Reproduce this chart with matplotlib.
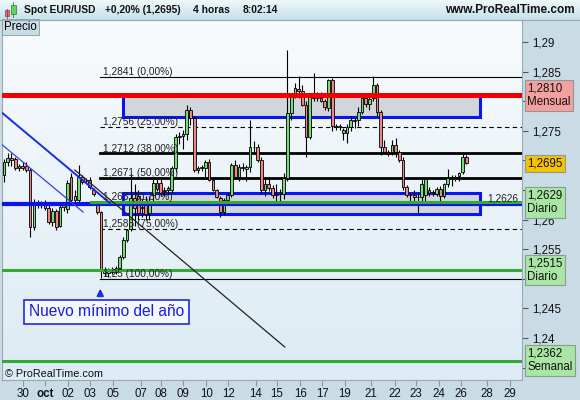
import numpy as np
import matplotlib.pyplot as plt
from matplotlib.patches import Rectangle
import matplotlib.transforms as mtransforms

plt.rcParams['font.family'] = ['Liberation Sans', 'DejaVu Sans']

# 4h candles, Spot EUR/USD
opens = [1.2676, 1.2698, 1.2704, 1.2703, 1.2688, 1.2690, 1.2690, 1.2684, 1.2587, 1.2625,
         1.2628, 1.2628, 1.2620, 1.2596, 1.2615, 1.2590, 1.2622, 1.2618, 1.2672, 1.2633,
         1.2633, 1.2672, 1.2665, 1.2667, 1.2650, 1.2625, 1.2613, 1.2515, 1.2510, 1.2514,
         1.2512, 1.2518, 1.2537, 1.2566, 1.2584, 1.2636, 1.2640, 1.2620, 1.2625, 1.2612,
         1.2642, 1.2662, 1.2662, 1.2648, 1.2650, 1.2650, 1.2687, 1.2740, 1.2742, 1.2744,
         1.2785, 1.2772, 1.2684, 1.2687, 1.2687, 1.2697, 1.2667, 1.2650, 1.2636, 1.2613,
         1.2633, 1.2641, 1.2692, 1.2672, 1.2689, 1.2686, 1.2689, 1.2723, 1.2722, 1.2701,
         1.2650, 1.2660, 1.2654, 1.2641, 1.2643, 1.2643, 1.2670, 1.2780, 1.2814, 1.2820,
         1.2818, 1.2794, 1.2740, 1.2807, 1.2806, 1.2806, 1.2800, 1.2788, 1.2836, 1.2758,
         1.2757, 1.2751, 1.2746, 1.2756, 1.2768, 1.2768, 1.2782, 1.2805, 1.2795, 1.2805,
         1.2827, 1.2782, 1.2723, 1.2714, 1.2714, 1.2726, 1.2714, 1.2701, 1.2655, 1.2642,
         1.2642, 1.2639, 1.2638, 1.2642, 1.2650, 1.2645, 1.2643, 1.2652, 1.2640, 1.2660,
         1.2670, 1.2672, 1.2673, 1.2680, 1.2706]
highs = [1.2703, 1.2712, 1.2712, 1.2706, 1.2694, 1.2697, 1.2697, 1.2688, 1.2634, 1.2633,
         1.2632, 1.2633, 1.2628, 1.2620, 1.2618, 1.2628, 1.2630, 1.2667, 1.2678, 1.2650,
         1.2692, 1.2676, 1.2670, 1.2672, 1.2653, 1.2628, 1.2615, 1.2520, 1.2518, 1.2520,
         1.2522, 1.2540, 1.2570, 1.2585, 1.2679, 1.2660, 1.2650, 1.2635, 1.2640, 1.2640,
         1.2668, 1.2670, 1.2668, 1.2655, 1.2656, 1.2690, 1.2745, 1.2748, 1.2752, 1.2794,
         1.2790, 1.2775, 1.2690, 1.2692, 1.2700, 1.2703, 1.2670, 1.2652, 1.2640, 1.2636,
         1.2645, 1.2696, 1.2700, 1.2694, 1.2695, 1.2693, 1.2768, 1.2733, 1.2728, 1.2706,
         1.2670, 1.2668, 1.2658, 1.2660, 1.2652, 1.2678, 1.2887, 1.2812, 1.2830, 1.2843,
         1.2828, 1.2800, 1.2812, 1.2848, 1.2815, 1.2815, 1.2803, 1.2838, 1.2840, 1.2762,
         1.2762, 1.2754, 1.2762, 1.2775, 1.2772, 1.2790, 1.2810, 1.2810, 1.2810, 1.2843,
         1.2830, 1.2785, 1.2735, 1.2718, 1.2735, 1.2738, 1.2718, 1.2705, 1.2658, 1.2645,
         1.2650, 1.2645, 1.2668, 1.2670, 1.2655, 1.2650, 1.2655, 1.2656, 1.2662, 1.2685,
         1.2676, 1.2676, 1.2680, 1.2711, 1.2709]
lows = [1.2664, 1.2690, 1.2690, 1.2684, 1.2682, 1.2684, 1.2680, 1.2571, 1.2582, 1.2620,
        1.2620, 1.2616, 1.2592, 1.2590, 1.2582, 1.2588, 1.2615, 1.2612, 1.2630, 1.2628,
        1.2630, 1.2660, 1.2660, 1.2652, 1.2640, 1.2610, 1.2501, 1.2505, 1.2503, 1.2508,
        1.2508, 1.2515, 1.2534, 1.2562, 1.2580, 1.2590, 1.2600, 1.2605, 1.2600, 1.2600,
        1.2630, 1.2648, 1.2640, 1.2640, 1.2642, 1.2645, 1.2680, 1.2728, 1.2720, 1.2735,
        1.2760, 1.2680, 1.2678, 1.2682, 1.2672, 1.2665, 1.2648, 1.2636, 1.2604, 1.2608,
        1.2628, 1.2638, 1.2668, 1.2665, 1.2682, 1.2665, 1.2680, 1.2715, 1.2698, 1.2645,
        1.2640, 1.2648, 1.2636, 1.2630, 1.2632, 1.2635, 1.2665, 1.2768, 1.2805, 1.2805,
        1.2792, 1.2706, 1.2736, 1.2800, 1.2800, 1.2798, 1.2785, 1.2784, 1.2750, 1.2752,
        1.2752, 1.2735, 1.2730, 1.2750, 1.2755, 1.2758, 1.2778, 1.2790, 1.2786, 1.2800,
        1.2775, 1.2710, 1.2712, 1.2708, 1.2710, 1.2706, 1.2698, 1.2650, 1.2638, 1.2632,
        1.2630, 1.2612, 1.2630, 1.2632, 1.2640, 1.2640, 1.2640, 1.2630, 1.2636, 1.2655,
        1.2657, 1.2665, 1.2666, 1.2677, 1.2694]
closes = [1.2698, 1.2704, 1.2700, 1.2688, 1.2690, 1.2688, 1.2684, 1.2587, 1.2625, 1.2628,
          1.2625, 1.2620, 1.2596, 1.2615, 1.2587, 1.2622, 1.2626, 1.2662, 1.2633, 1.2640,
          1.2672, 1.2664, 1.2666, 1.2655, 1.2644, 1.2613, 1.2515, 1.2510, 1.2514, 1.2512,
          1.2518, 1.2537, 1.2566, 1.2582, 1.2636, 1.2620, 1.2612, 1.2622, 1.2610, 1.2632,
          1.2662, 1.2652, 1.2645, 1.2650, 1.2653, 1.2687, 1.2740, 1.2742, 1.2744, 1.2785,
          1.2772, 1.2684, 1.2687, 1.2689, 1.2697, 1.2667, 1.2650, 1.2638, 1.2613, 1.2633,
          1.2641, 1.2692, 1.2672, 1.2689, 1.2688, 1.2689, 1.2723, 1.2722, 1.2701, 1.2650,
          1.2660, 1.2654, 1.2641, 1.2643, 1.2643, 1.2670, 1.2780, 1.2807, 1.2822, 1.2818,
          1.2794, 1.2740, 1.2807, 1.2806, 1.2805, 1.2800, 1.2790, 1.2836, 1.2758, 1.2756,
          1.2758, 1.2746, 1.2756, 1.2768, 1.2767, 1.2782, 1.2805, 1.2795, 1.2803, 1.2827,
          1.2782, 1.2723, 1.2714, 1.2713, 1.2726, 1.2714, 1.2701, 1.2655, 1.2642, 1.2641,
          1.2638, 1.2638, 1.2660, 1.2668, 1.2645, 1.2646, 1.2652, 1.2640, 1.2660, 1.2670,
          1.2672, 1.2671, 1.2679, 1.2706, 1.2696]

date_labels = ['30', 'oct', '02', '03', '05', '07', '08', '09', '10', '12', '14',
               '15', '16', '17', '19', '21', '22', '23', '24', '26', '28', '29']
date_pos = [5.1, 11.0, 17.2, 23.1, 29.2, 36.7, 42.1, 48.0, 54.2, 60.1, 67.6,
            73.2, 79.4, 85.3, 91.4, 98.4, 104.8, 110.5, 116.6, 122.5, 129.5, 135.7]

price_ticks = [1.235, 1.24, 1.245, 1.25, 1.255, 1.26, 1.265, 1.27, 1.275, 1.28, 1.285, 1.29]
# labels hidden behind the level tags in the original
hidden_ticks = [1.235, 1.25, 1.265, 1.27, 1.28]

# fibonacci retracement
fib_levels = [1.2841, 1.2756, 1.2712, 1.2671, 1.2630, 1.2585, 1.2500]
fib_labels = ['1,2841 (0,00%)', '1,2756 (25,00%)', '1,2712 (38,00%)', '1,2671 (50,00%)',
              '1,263 (61,80%)', '1,2585 (75,00%)', '1,25 (100,00%)']
fib_styles = [('-', 0.8), ('--', 0.8), ('-', 2.0), ('-', 2.0), ('-', 0.0), ('--', 0.8), ('-', 0.8)]
fib_start = 25.7

# support / resistance
monthly_level = 1.2810
daily_levels = [1.2629, 1.2515]
weekly_level = 1.2362
blue_level = 1.2626
last_price = 1.2695
zones = [(1.2773, 1.2810), (1.2609, 1.2645)]
zone_x = (31.9, 127.6)

# trend lines [(x0, y0), (x1, y1)]
trend_a = [(-1.07, 1.27834), (28.4, 1.26280)]
trend_b = [(-1.07, 1.27294), (21.2, 1.26128)]
trend_c = [(19.0, 1.26838), (75.3, 1.23848)]

W, H = 580, 400
fig = plt.figure(figsize=(W / 100, H / 100), dpi=100)
fig.patch.set_facecolor('#c9dce6')

# title bar
tb = fig.add_axes([0, 380 / H, 1, 20 / H])
tb.imshow(np.linspace(0, 1, 50).reshape(-1, 1), cmap=plt.matplotlib.colors.LinearSegmentedColormap.from_list(
    'tb', ['#eef8fb', '#c6e0ea']), aspect='auto', extent=[0, W, 0, 20], origin='upper')
tb.set_xlim(0, W)
tb.set_ylim(0, 20)
tb.axis('off')
tb.add_patch(Rectangle((4.5, 4), 4.5, 6, facecolor='#e86a6a', edgecolor='#884444', lw=0.5))
tb.plot([6.75, 6.75], [2.5, 11], color='#884444', lw=0.6)
tb.add_patch(Rectangle((11, 6), 4.5, 9, facecolor='#5fd35f', edgecolor='#337733', lw=0.5))
tb.plot([13.25, 13.25], [3.5, 18], color='#337733', lw=0.6, zorder=0)
for tx, txt in [(24, 'Spot EUR/USD'), (105, '+0,20% (1,2695)'), (193, '4 horas'), (243, '8:02:14')]:
    tb.text(tx, 10, txt, fontsize=7.4, fontweight='bold', va='center', ha='left', color='#111111')
tb.text(575, 10, 'www.ProRealTime.com', fontsize=8.5, fontweight='bold', va='center',
        ha='right', color='#111111')
fig.add_artist(plt.Line2D([0, 1], [380 / H, 380 / H], color='#9aa8b0', lw=0.8))

# main price axes
ax = fig.add_axes([2 / W, 20 / H, 520 / W, 360 / H])
xmin, xmax = -0.54, 138.9
ymin, ymax = 1.23291, 1.29372
ax.set_xlim(xmin, xmax)
ax.set_ylim(ymin, ymax)
ax.imshow(np.linspace(0, 1, 100).reshape(-1, 1), cmap=plt.matplotlib.colors.LinearSegmentedColormap.from_list(
    'bg', ['#f8fbfd', '#dcebf4']), aspect='auto', extent=[xmin, xmax, ymin, ymax], origin='upper', zorder=0)

# zones
for lo, hi in zones:
    ax.add_patch(Rectangle((zone_x[0], lo), zone_x[1] - zone_x[0], hi - lo, facecolor='#d2d5d9',
                           edgecolor='#0a14f0', lw=2.2, zorder=1))

# fibonacci
for lev, lab, (ls, lw) in zip(fib_levels, fib_labels, fib_styles):
    if lw > 0:
        ax.plot([fib_start, xmax], [lev, lev], color='black', ls=ls, lw=lw, zorder=2,
                dashes=(4, 3) if ls == '--' else (None, None))
    ax.text(fib_start + 0.8, lev + 0.0003, lab, fontsize=7.3, color='#222222', zorder=6)

# candles
idx = np.arange(len(opens))
o = np.array(opens)
c = np.array(closes)
up = c >= o
body = np.where(np.abs(c - o) < 0.00006, 0.00006, c - o)
ax.vlines(idx, lows, highs, color='black', lw=0.8, zorder=3)
ax.bar(idx, body, bottom=o, width=0.72, color=np.where(up, '#74dd74', '#f08585'),
       edgecolor='black', linewidth=0.6, zorder=3)

# level lines
ax.axhline(monthly_level, color='#f00000', lw=3.6, zorder=4)
ax.axhline(blue_level, color='#0a14f0', lw=3.0, zorder=4)
ax.plot([23.2, xmax], [daily_levels[0]] * 2, color='#33aa33', lw=2.2, zorder=4)
ax.axhline(daily_levels[1], color='#33aa33', lw=2.2, zorder=4)
ax.axhline(weekly_level, color='#33aa33', lw=2.2, zorder=4)
ax.text(129.5, 1.2631, '1,2626', fontsize=7.3, color='#222222', zorder=6)

# trend lines
for seg, col, lw in [(trend_a, '#1a2ae8', 1.4), (trend_b, '#3340ee', 0.9), (trend_c, '#222222', 0.9)]:
    ax.plot([seg[0][0], seg[1][0]], [seg[0][1], seg[1][1]], color=col, lw=lw, zorder=4)

# annotation
ax.annotate('', xy=(25.8, 1.2488), xytext=(25.8, 1.2467),
            arrowprops=dict(arrowstyle='-|>', color='#1a2ae8', lw=1.3, mutation_scale=10), zorder=6)
ax.text(6.7, 1.24445, 'Nuevo mínimo del año', fontsize=11.2, color='#1a1ae0', va='center', ha='left',
        zorder=6, bbox=dict(boxstyle='square,pad=0.3', facecolor='#f2f8fc', edgecolor='#1a2ae8', lw=1.2))

ax.text(0.1, ymax - 0.0002, 'Precio', fontsize=8.3, va='top', ha='left', zorder=7,
        bbox=dict(boxstyle='square,pad=0.2', facecolor='#c9dce6', edgecolor='#8a9aa4', lw=0.6))
ax.text(0.3, 1.2339, '© ProRealTime.com', fontsize=7.8, color='#111111', va='center', zorder=7)

# axes styling
for s in ['top', 'left', 'right', 'bottom']:
    ax.spines[s].set_color('#9aa8b0')
ax.yaxis.tick_right()
ax.set_yticks(price_ticks)
ax.set_yticklabels(['' if t in hidden_ticks else f'{t:g}'.replace('.', ',') for t in price_ticks])
ax.tick_params(axis='y', length=4, width=0.8, color='#555555', pad=3, labelsize=8.3, labelcolor='#111111')
ax.set_xticks(date_pos)
ax.set_xticklabels(date_labels)
ax.tick_params(axis='x', length=4, width=0.8, color='#8a9aa4', pad=1.5, labelsize=8.3, labelcolor='#111111')
for lab in ax.get_xticklabels():
    if lab.get_text() == 'oct':
        lab.set_fontweight('bold')

# right-hand level tags
tr = mtransforms.blended_transform_factory(ax.transAxes, ax.transData)
tags = [(monthly_level, '1,2810\nMensual', '#f4a0a0'),
        (last_price, '1,2695', '#f5c200'),
        (daily_levels[0], '1,2629\nDiario', '#a9e6a3'),
        (daily_levels[1], '1,2515\nDiario', '#a9e6a3'),
        (weekly_level, '1,2362\nSemanal', '#a9e6a3')]
for y, txt, fc in tags:
    ax.text(1.0105, y, txt, transform=tr, fontsize=8.3, va='center', ha='left', clip_on=False,
            zorder=10, linespacing=1.15, color='#111111',
            bbox=dict(boxstyle='square,pad=0.22', facecolor=fc, edgecolor='#8a9a94', lw=0.8))

fig.savefig('out.png', dpi=100)
